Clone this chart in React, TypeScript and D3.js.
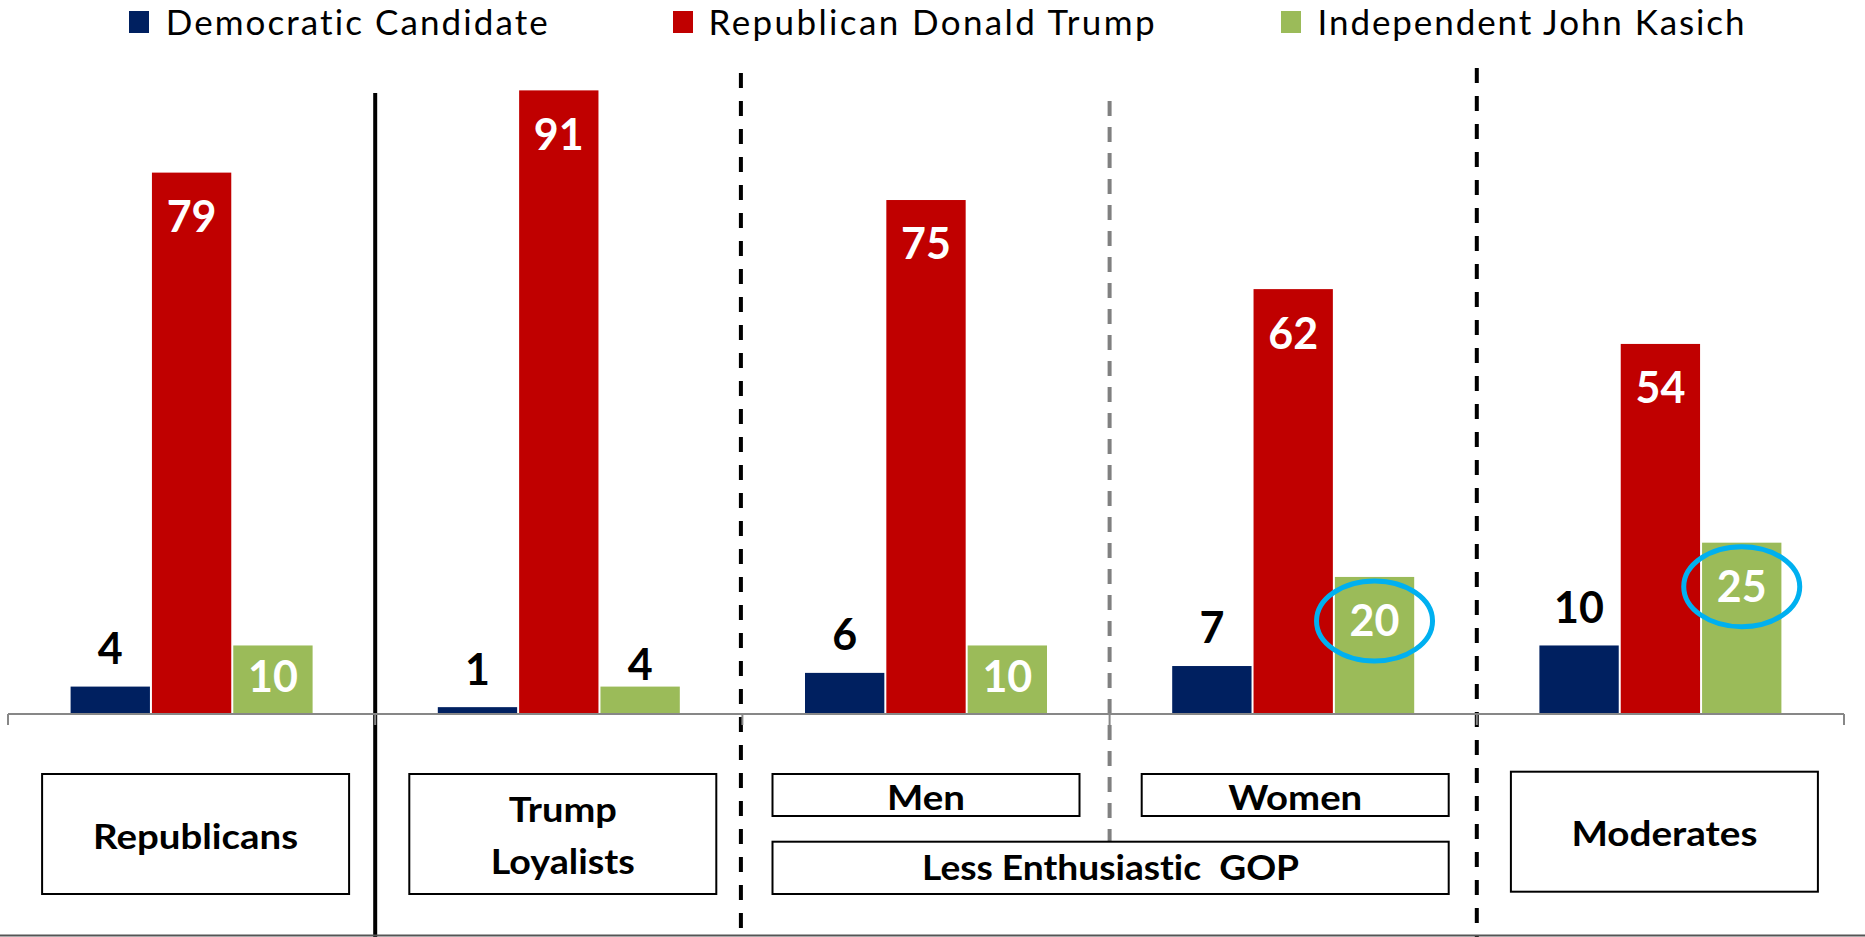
import React from "react";
import * as d3 from "d3";

const categories = ["Republicans", "Trump Loyalists", "Men", "Women", "Moderates"];
const seriesNames = ["Democratic Candidate", "Republican Donald Trump", "Independent John Kasich"];
const democratic = [4, 1, 6, 7, 10];
const trump = [79, 91, 75, 62, 54];
const kasich = [10, 4, 10, 20, 25];
const seriesColors = ["#002060", "#C00000", "#9BBB59"];
const boxLabels = [["Republicans"], ["Trump", "Loyalists"], ["Men"], ["Women"], ["Moderates"]];
const boxLabelWidths = [[205], [108], [144], [78], [134], [186]];
const groupLabel = "Less Enthusiastic  GOP";
const highlighted = ["Women", "Moderates"];

const W = 1865;
const H = 937;
const FONT = "Lato, 'Open Sans', sans-serif";
const noLig = { fontVariantLigatures: "none" as const };

export default function App() {
  const series = [democratic, trump, kasich];
  const x = d3.scaleBand<string>().domain(categories).range([8, 1844]).paddingInner(0).paddingOuter(0);
  const y = d3.scaleLinear().domain([0, 100]).range([714, 28.7]);
  const bw = x.bandwidth();
  const groupW = 244;
  const inner = d3.scaleBand<number>().domain([0, 1, 2]).range([-groupW / 2, groupW / 2]);
  const ibw = inner.bandwidth();
  const base = y(0);
  const labelSize = 43;
  const capHalf = 0.7165 * labelSize / 2;

  const bars: any[] = [];
  const labels: any[] = [];
  const ellipses: any[] = [];
  categories.forEach((c, ci) => {
    const cx = (x(c) as number) + bw / 2;
    series.forEach((vals, si) => {
      const v = vals[ci];
      const x0 = cx + (inner(si) as number);
      const top = y(v);
      bars.push(
        <rect key={`b${ci}-${si}`} x={x0 + 1} y={top} width={ibw - 2} height={base - top} fill={seriesColors[si]} />
      );
      let cyLabel: number;
      let fill = "#000";
      if (si === 0) {
        cyLabel = top - 38;
      } else if (si === 1) {
        cyLabel = top + 44;
        fill = "#fff";
      } else if (v >= 10) {
        cyLabel = Math.min(top + 44, (top + base) / 2 - 3);
        fill = "#fff";
      } else {
        cyLabel = top - 22;
      }
      labels.push(
        <text key={`l${ci}-${si}`} x={x0 + ibw / 2} y={cyLabel + capHalf} textAnchor="middle"
          fontFamily={FONT} fontWeight={700} fontSize={labelSize} fill={fill}>{v}</text>
      );
      if (si === 2 && highlighted.includes(c)) {
        ellipses.push(
          <ellipse key={`e${ci}`} cx={x0 + ibw / 2} cy={cyLabel} rx={58} ry={40} fill="none" stroke="#00B0F0" strokeWidth={5} />
        );
      }
    });
  });

  const boundaries = d3.range(categories.length + 1).map((i) => 8 + i * bw);

  // Category boxes
  const boxW = 307;
  const boxes: any[] = [];
  let wi = 0;
  categories.forEach((c, ci) => {
    const cx = (x(c) as number) + bw / 2 + (ci === 2 ? 0 : ci === 3 ? 2 : 4);
    const lines = boxLabels[ci];
    const small = ci === 2 || ci === 3;
    const y0 = ci === 4 ? 771.7 : 774;
    const h = small ? 42 : 120;
    const cy = y0 + h / 2;
    boxes.push(
      <rect key={`bx${ci}`} x={cx - boxW / 2} y={y0} width={boxW} height={h} fill="#fff" stroke="#000" strokeWidth={2} />
    );
    lines.forEach((t, li) => {
      const by = lines.length === 1 ? cy + 14.5 : cy - 12.5 + li * 52.3;
      const tw = boxLabelWidths[wi++][0];
      boxes.push(
        <text key={`bt${ci}-${li}`} x={cx} y={by} textAnchor="middle" fontFamily={FONT} fontWeight={700} fontSize={35}
          fill="#000" textLength={tw} lengthAdjust="spacingAndGlyphs" style={noLig}>{t}</text>
      );
    });
  });
  const gx0 = (x(categories[2]) as number) + bw / 2 - boxW / 2;
  const gx1 = (x(categories[3]) as number) + bw / 2 + 2 + boxW / 2;

  const legendItems = [
    { sq: 129, tx: 165.7, w: 382 },
    { sq: 673, tx: 708.5, w: 446 },
    { sq: 1281, tx: 1317.5, w: 427 },
  ];

  return (
    <svg width={W} height={H} style={{ position: "absolute", left: 0, top: 0, background: "#fff" }}>
      <rect x={0} y={0} width={W} height={H} fill="#fff" />
      {/* legend */}
      {seriesNames.map((n, i) => (
        <g key={`lg${i}`}>
          <rect x={legendItems[i].sq} y={11} width={20} height={22} fill={seriesColors[i]} />
          <text x={legendItems[i].tx} y={34.6} fontFamily={FONT} fontSize={35} fill="#000"
            textLength={legendItems[i].w} lengthAdjust="spacing" style={noLig}>{n}</text>
        </g>
      ))}
      {/* separators */}
      <line x1={boundaries[1]} x2={boundaries[1]} y1={93} y2={H} stroke="#000" strokeWidth={4} />
      <line x1={boundaries[2] - 1.5} x2={boundaries[2] - 1.5} y1={73} y2={H} stroke="#000" strokeWidth={4} strokeDasharray="15 13" />
      <line x1={boundaries[4]} x2={boundaries[4]} y1={68} y2={H} stroke="#000" strokeWidth={4} strokeDasharray="15 13" />
      <line x1={boundaries[3]} x2={boundaries[3]} y1={101} y2={842} stroke="#808080" strokeWidth={4} strokeDasharray="15 11" />
      {/* bars */}
      {bars}
      {/* axis */}
      <line x1={8} x2={1844} y1={base} y2={base} stroke="#878787" strokeWidth={2} />
      {boundaries.map((b, i) => (
        <line key={`t${i}`} x1={b} x2={b} y1={base} y2={base + 11} stroke="#878787" strokeWidth={2} />
      ))}
      {labels}
      {ellipses}
      {boxes}
      <rect x={gx0} y={841.7} width={gx1 - gx0} height={52.3} fill="#fff" stroke="#000" strokeWidth={2} />
      <text x={(gx0 + gx1) / 2} y={880} textAnchor="middle" fontFamily={FONT} fontWeight={700} fontSize={35}
        fill="#000" style={{ whiteSpace: "pre", fontVariantLigatures: "none" }} textLength={377} lengthAdjust="spacingAndGlyphs">{groupLabel}</text>
      <line x1={0} x2={W} y1={935.5} y2={935.5} stroke="#555" strokeWidth={2} />
    </svg>
  );
}
